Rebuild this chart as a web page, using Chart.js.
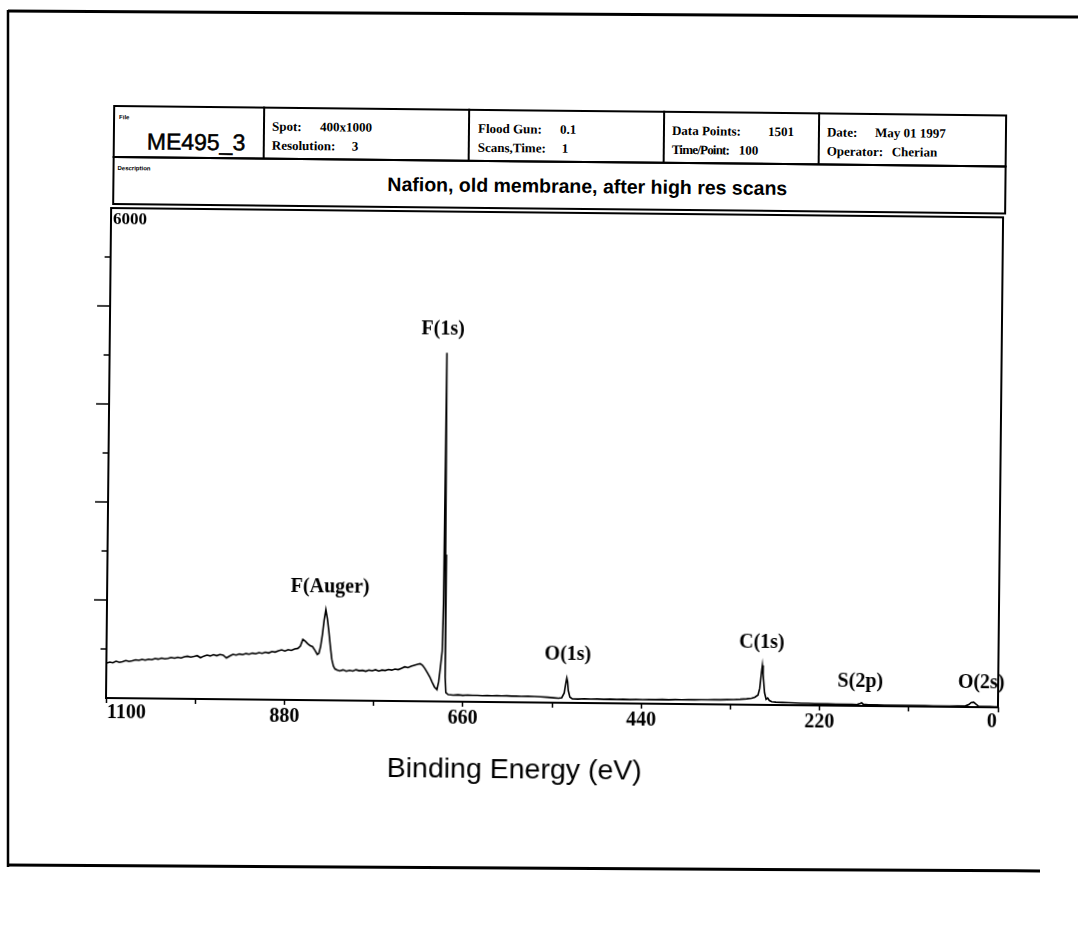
<!DOCTYPE html>
<html>
<head>
<meta charset="utf-8">
<script src="https://cdn.jsdelivr.net/npm/chart.js@4.4.1/dist/chart.umd.min.js"></script>
<style>
  html, body { margin: 0; padding: 0; background: #fff; overflow: hidden; }
  body { width: 1078px; height: 925px; position: relative; }
  #frame { position: absolute; left: 0; top: 0; }
  /* the scanned sheet is slightly rotated */
  #sheet { position: absolute; left: 0; top: 0; width: 1078px; height: 925px;
           transform-origin: 106px 698px; transform: rotate(0.6deg); }
  .box { position: absolute; border: 2px solid #000; box-sizing: border-box; }
  .vline { position: absolute; width: 0; border-left: 2px solid #000; }
  .lbl { position: absolute; font-family: "Liberation Serif", "Times New Roman", serif;
         font-weight: bold; font-size: 13px; line-height: 1; color: #000; white-space: nowrap; }
  .tiny { position: absolute; font-family: "Liberation Sans", Arial, sans-serif;
          font-weight: bold; font-size: 6px; line-height: 1; color: #000; }
  .sans { position: absolute; font-family: "Liberation Sans", Arial, sans-serif;
          line-height: 1; color: #000; white-space: nowrap; }
  #wrap { position: absolute; left: 76px; top: 196px; width: 950px; height: 564px; }
</style>
</head>
<body>
<svg id="frame" width="1078" height="925">
  <line x1="8" y1="11" x2="1078" y2="17" stroke="#000" stroke-width="3"/>
  <line x1="8" y1="10" x2="8" y2="867" stroke="#000" stroke-width="2.5"/>
  <line x1="7" y1="865" x2="1040" y2="871" stroke="#000" stroke-width="3"/>
</svg>

<div id="sheet">
  <!-- header table -->
  <div class="box" style="left:107px; top:105px; width:894px; height:53px;"></div>
  <div class="box" style="left:107px; top:156px; width:894px; height:49px;"></div>
  <div class="vline" style="left:257px; top:105px; height:52px;"></div>
  <div class="vline" style="left:462px; top:105px; height:52px;"></div>
  <div class="vline" style="left:657px; top:105px; height:52px;"></div>
  <div class="vline" style="left:812px; top:105px; height:52px;"></div>

  <div class="tiny" style="left:113px; top:114px;">File</div>
  <div class="sans" style="left:141px; top:130px; font-size:23px; -webkit-text-stroke:0.5px #000;">ME495_3</div>

  <div class="lbl" style="left:266px; top:118px;">Spot:</div>
  <div class="lbl" style="left:314px; top:118px;">400x1000</div>
  <div class="lbl" style="left:266px; top:137px;">Resolution:</div>
  <div class="lbl" style="left:346px; top:137px;">3</div>

  <div class="lbl" style="left:472px; top:118px;">Flood Gun:</div>
  <div class="lbl" style="left:554px; top:118px;">0.1</div>
  <div class="lbl" style="left:472px; top:137px;">Scans,Time:</div>
  <div class="lbl" style="left:556px; top:137px;">1</div>

  <div class="lbl" style="left:666px; top:118px;">Data Points:</div>
  <div class="lbl" style="left:762px; top:118px;">1501</div>
  <div class="lbl" style="left:666px; top:137px; letter-spacing:-0.8px;">Time/Point:</div>
  <div class="lbl" style="left:733px; top:137px;">100</div>

  <div class="lbl" style="left:821px; top:118px;">Date:</div>
  <div class="lbl" style="left:869px; top:118px;">May 01 1997</div>
  <div class="lbl" style="left:821px; top:137px;">Operator:</div>
  <div class="lbl" style="left:886px; top:137px;">Cherian</div>

  <div class="tiny" style="left:112px; top:165px;">Description</div>
  <div class="sans" style="left:382px; top:172px; font-size:19.5px; font-weight:bold;">Nafion, old membrane, after high res scans</div>

  <div id="wrap"><canvas id="xps" width="950" height="564"></canvas></div>

  <div class="sans" style="left:515px; top:764px; font-size:28.5px; transform:translate(-50%,-50%);">Binding Energy (eV)</div>
</div>

<script>
// Survey spectrum (binding energy in eV, counts)
const bindingEnergy = [
  1100, 1096, 1092, 1088, 1084, 1080, 1076, 1072, 1068, 1064, 1060, 1056, 1052, 1048, 1044, 1040,
  1036, 1032, 1028, 1024, 1020, 1016, 1012, 1008, 1004, 1000, 996, 992, 988, 984, 980, 976,
  972, 968, 964, 960, 956, 952, 948, 944, 940, 936, 932, 928, 924, 920, 916, 912,
  908, 904, 900, 896, 892, 888, 884, 880, 876, 872, 868, 864, 861, 858, 855, 852,
  849, 846, 843, 840, 838, 836, 834, 832, 830, 828, 826, 824, 822, 820, 818, 815,
  812, 808, 804, 800, 796, 792, 788, 784, 780, 776, 772, 768, 764, 760, 756, 752,
  748, 744, 740, 736, 732, 728, 724, 720, 716, 713, 710, 707, 704, 701, 698, 695,
  692, 690, 688, 686, 685, 684, 683, 682, 681, 678, 672, 666, 660, 654, 648, 642,
  636, 630, 624, 618, 612, 606, 600, 594, 588, 580, 572, 564, 556, 548, 542, 538,
  535, 533, 532, 531, 530, 528, 525, 518, 510, 502, 494, 486, 478, 470, 462, 454,
  446, 438, 430, 422, 414, 406, 398, 390, 382, 374, 366, 358, 350, 342, 334, 326,
  318, 310, 304, 300, 296, 294, 292, 291, 290, 288, 286, 284, 282, 279, 274, 266,
  258, 250, 242, 234, 226, 218, 210, 200, 190, 180, 174, 170, 168, 166, 160, 150,
  140, 130, 120, 110, 100, 90, 80, 70, 60, 50, 40, 36, 33, 30, 27, 24,
  18, 10, 4, 0
];
const counts = [
  425, 440, 432, 452, 438, 447, 462, 450, 458, 472, 465, 478, 468, 480, 474, 490,
  482, 495, 486, 492, 505, 497, 508, 500, 515, 522, 512, 520, 530, 505, 525, 538,
  528, 545, 532, 548, 540, 505, 530, 550, 542, 556, 548, 562, 555, 568, 560, 575,
  566, 582, 572, 590, 584, 600, 612, 598, 615, 606, 625, 632, 660, 742, 720, 690,
  668, 655, 610, 560, 575, 660, 800, 980, 1110, 1000, 840, 660, 500, 420, 385, 370,
  362, 375, 358, 370, 362, 378, 366, 372, 360, 375, 368, 380, 365, 378, 372, 386,
  378, 392, 385, 402, 420, 410, 428, 440, 452, 460, 440, 400, 350, 300, 235, 175,
  145, 240, 420, 620, 1200, 4270, 1800, 300, 110, 85, 80, 84, 78, 82, 79, 80,
  77, 80, 76, 79, 76, 78, 75, 77, 74, 76, 73, 70, 66, 60, 56, 62,
  120, 250, 304, 260, 150, 70, 50, 48, 52, 49, 51, 48, 50, 47, 50, 48,
  51, 49, 52, 50, 53, 51, 54, 52, 55, 53, 56, 55, 58, 57, 60, 62,
  66, 72, 80, 92, 120, 200, 400, 483, 380, 150, 70, 85, 55, 40, 35, 32,
  30, 27, 25, 24, 22, 21, 20, 19, 18, 17, 16, 30, 38, 20, 15, 14,
  13, 13, 12, 12, 11, 11, 10, 10, 10, 11, 14, 30, 55, 60, 35, 12,
  9, 8, 7, 6
];

// axis range
const xMin = 0, xMax = 1100, xStep = 110, xLabelStep = 220;
const yMin = 0, yMax = 6000, yStep = 600, yMajorStep = 1200;

// peak annotations: name, energy and height of the label centre
const peakNames = ['F(1s)', 'F(Auger)', 'O(1s)', 'C(1s)', 'S(2p)', 'O(2s)'];
const peakLabelEnergy = [689, 825, 531, 292, 170, 21];
const peakLabelCounts = [4560, 1380, 590, 760, 295, 295];

const spectrum = bindingEnergy.map((e, i) => ({ x: e, y: counts[i] }));
const tickFont = { family: '"Liberation Serif", serif', weight: 'bold', size: 20 };

// box, y ticks, top value, end labels of the x axis and peak names
const decorations = {
  id: 'decorations',
  afterDraw(chart) {
    const { ctx, chartArea: a, scales: { x, y } } = chart;
    ctx.save();
    ctx.strokeStyle = '#000';
    ctx.fillStyle = '#000';
    ctx.lineWidth = 2;
    ctx.strokeRect(a.left, a.top, a.right - a.left, a.bottom - a.top);

    ctx.lineWidth = 1.5;
    y.ticks.forEach(t => {
      if (t.value <= yMin || t.value >= yMax) return;
      const py = y.getPixelForValue(t.value);
      const len = t.value % yMajorStep === 0 ? 13 : 6;
      ctx.beginPath();
      ctx.moveTo(a.left - len, py);
      ctx.lineTo(a.left, py);
      ctx.stroke();
    });

    ctx.font = 'bold 17px "Liberation Serif", serif';
    ctx.textAlign = 'left';
    ctx.textBaseline = 'top';
    ctx.fillText(String(yMax), a.left + 2, y.getPixelForValue(yMax) + 3);

    // the two end labels sit inside the axis span
    ctx.font = 'bold 20px "Liberation Serif", serif';
    ctx.textAlign = 'left';
    ctx.fillText(String(xMax), x.getPixelForValue(xMax) + 1, a.bottom + 5);
    ctx.textAlign = 'right';
    ctx.fillText(String(xMin), x.getPixelForValue(xMin) - 1, a.bottom + 5);

    ctx.textAlign = 'center';
    ctx.textBaseline = 'middle';
    peakNames.forEach((name, i) => {
      ctx.fillText(name, x.getPixelForValue(peakLabelEnergy[i]), y.getPixelForValue(peakLabelCounts[i]));
    });
    ctx.restore();
  }
};

new Chart(document.getElementById('xps'), {
  type: 'line',
  data: {
    datasets: [{
      data: spectrum,
      borderColor: '#000',
      borderWidth: 1.6,
      pointRadius: 0,
      tension: 0,
      fill: false
    }]
  },
  options: {
    responsive: false,
    animation: false,
    devicePixelRatio: 1,
    layout: { padding: { top: 12, right: 28, left: 0, bottom: 0 } },
    plugins: { legend: { display: false }, tooltip: { enabled: false } },
    scales: {
      x: {
        type: 'linear',
        reverse: true,
        min: xMin,
        max: xMax,
        afterFit: s => { s.height = 62; },
        border: { display: false },
        grid: { display: true, drawOnChartArea: false, drawTicks: true, tickLength: 5,
                tickWidth: 1.5, tickColor: '#000', color: '#000' },
        ticks: {
          stepSize: xStep,
          autoSkip: false,
          maxRotation: 0,
          padding: 0,
          color: '#000',
          font: tickFont,
          callback: v => (v % xLabelStep === 0 && v !== xMin && v !== xMax ? String(v) : '')
        }
      },
      y: {
        min: yMin,
        max: yMax,
        afterFit: s => { s.width = 30; },
        border: { display: false },
        grid: { display: false },
        ticks: { display: false, stepSize: yStep }
      }
    }
  },
  plugins: [decorations]
});
</script>
</body>
</html>
